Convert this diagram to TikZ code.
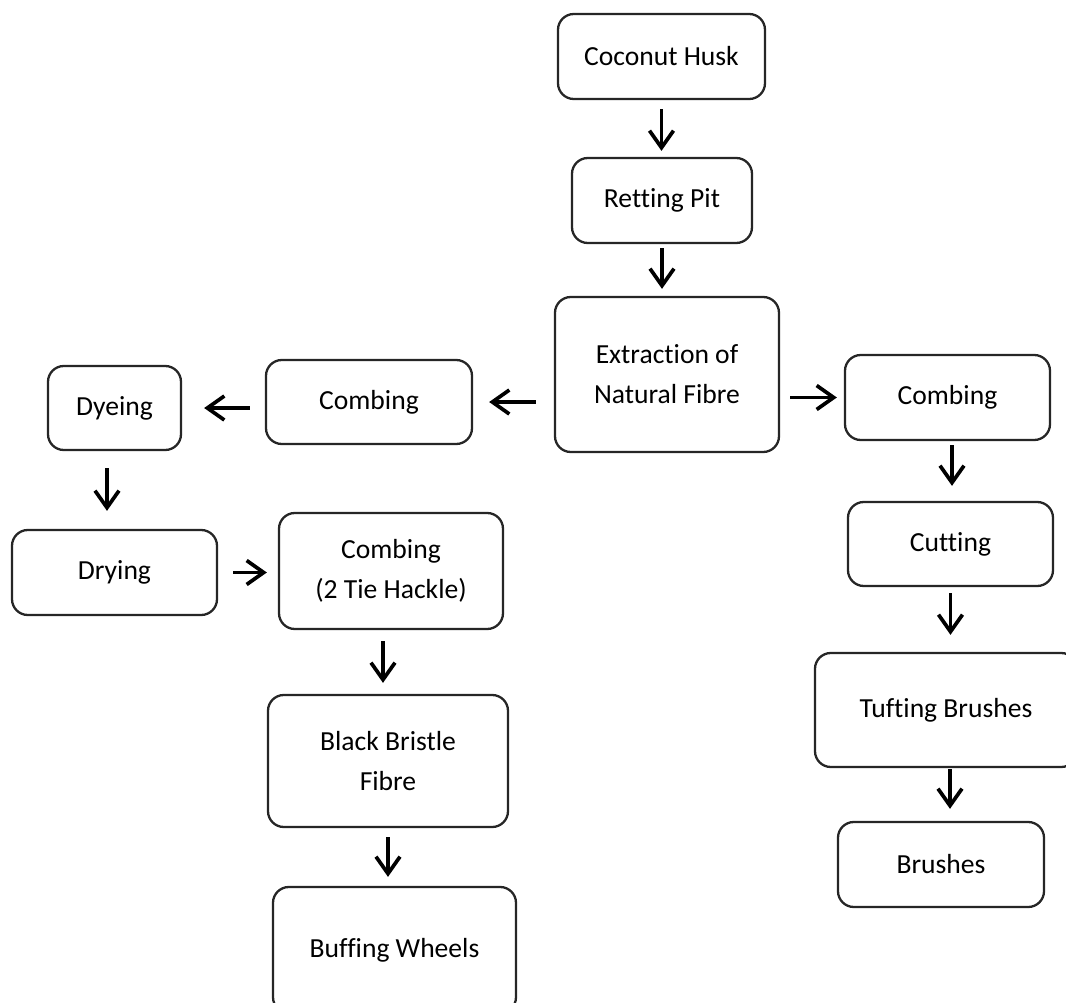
\documentclass[tikz,border=0pt]{standalone}
\usepackage{fontspec}
\setmainfont{Carlito}[Ligatures=NoCommon]
\usetikzlibrary{arrows.meta}

\begin{document}
\begin{tikzpicture}[
  font=\fontsize{15.7}{22.7}\selectfont,
  box/.style={draw=black!85, line width=1.3pt, rounded corners=9pt, align=center, fill=white},
  arrow/.style={-{Straight Barb[length=3.4mm, width=4.8mm]}, line width=2.1pt, draw=black}
]
\useasboundingbox (0,0) rectangle (21.32,-20.06);

\node[box, minimum width=41.4mm, minimum height=17mm] (husk) at (13.23,-1.13) {Coconut Husk};
\node[box, minimum width=36mm, minimum height=17mm] (pit) at (13.24,-4.01) {Retting Pit};
\node[box, minimum width=44.8mm, minimum height=31mm] (ext) at (13.34,-7.49)
  {Extraction of\\Natural Fibre};
\draw[arrow, shorten <=1.8mm, shorten >=1.2mm] (husk.south) -- (husk.south |- pit.north);
\draw[arrow, shorten <=0.8mm, shorten >=1.4mm] (pit.south) -- (pit.south |- ext.north);

\node[box, minimum width=41.2mm, minimum height=16.8mm] (combL) at (7.38,-8.04) {Combing};
\node[box, minimum width=26.6mm, minimum height=16.8mm] (dye) at (2.29,-8.16) {Dyeing};
\node[box, minimum width=41mm, minimum height=17mm] (dry) at (2.29,-11.45) {Drying};
\node[box, minimum width=44.8mm, minimum height=23.2mm] (hackle) at (7.82,-11.42)
  {Combing\\(2 Tie Hackle)};
\node[box, minimum width=48mm, minimum height=26.4mm] (black) at (7.76,-15.22)
  {Black Bristle\\Fibre};
\node[box, minimum width=48.6mm, minimum height=25.2mm] (buff) at (7.89,-19.0) {Buffing Wheels};
\draw[arrow, shorten <=3.6mm, shorten >=3.2mm] (ext.west |- combL.east) -- (combL.east);
\draw[arrow, shorten <=3mm, shorten >=4.4mm] (combL.west |- dye.east) -- (dye.east);
\draw[arrow, shorten <=3.4mm, shorten >=3.6mm] ([xshift=-1.5mm]dye.south) -- ([xshift=-1.5mm]dye.south |- dry.north);
\draw[arrow, shorten <=3mm, shorten >=2.2mm] (dry.east) -- (dry.east -| hackle.west);
\draw[arrow, shorten <=2.2mm, shorten >=2.2mm] ([xshift=-1.6mm]hackle.south) -- ([xshift=-1.6mm]hackle.south |- black.north);
\draw[arrow, shorten <=1.8mm, shorten >=1.8mm] (black.south) -- (black.south |- buff.north);

\node[box, minimum width=41mm, minimum height=17mm] (combR) at (18.95,-7.95) {Combing};
\node[box, minimum width=41mm, minimum height=16.8mm] (cut) at (19.01,-10.88) {Cutting};
\node[box, minimum width=52.4mm, minimum height=22.8mm] (tuft) at (18.92,-14.20) {Tufting Brushes};
\node[box, minimum width=41.2mm, minimum height=17mm] (brush) at (18.82,-17.29) {Brushes};
\draw[arrow, shorten <=2mm, shorten >=1.4mm] (ext.east |- combR.west) -- (combR.west);
\draw[arrow, shorten <=0.8mm, shorten >=3mm] ([xshift=0.9mm]combR.south) -- ([xshift=0.9mm]combR.south |- cut.north);
\draw[arrow, shorten <=1.2mm, shorten >=3.4mm] (cut.south) -- (cut.south |- tuft.north);
\draw[arrow, shorten <=0.2mm, shorten >=2.4mm] ([xshift=0.8mm]tuft.south) -- ([xshift=0.8mm]tuft.south |- brush.north);

\end{tikzpicture}
\end{document}
